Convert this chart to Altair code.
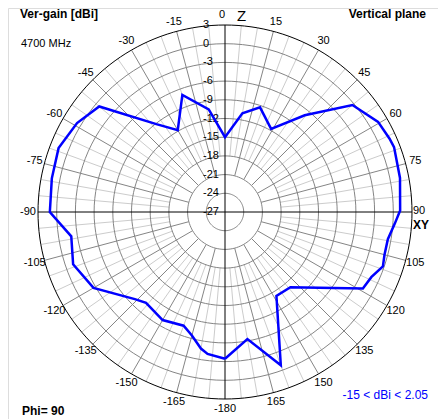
import altair as alt
import pandas as pd
import numpy as np

# ---- pattern data (angle from zenith, clockwise; gain in dBi) ----
angles = [-180, -173, -170, -165, -160, -150, -139, -134, -120, -109, -99, -90,
          -79, -69, -59, -50, -38, -30, -20, -9, 0, 10, 18.5, 29, 39.5, 50,
          59.5, 66, 69, 79, 89.5, 94, 99.5, 105, 109, 114, 119, 133.5, 139,
          148.5, 160, 170, 180]
gains = [-3.45, -4.06, -4.76, -6.48, -7.59, -6.99, -7.69, -6.89, -2.64, -1.23,
         -2.03, 1.1, 1.3, 1.6, 0.69, -0.66, -9.11, -11.84, -7.0, -10.32, -15.0,
         -10.93, -9.3, -11.74, -6.89, -0.31, 1.5, 1.9, 2.05, 1.6, 1.1, 0.29,
         -0.51, -0.51, -0.21, -1.31, -1.71, -9.41, -11.01, -11.21, -0.82, -6.30,
         -3.45]

ring_levels = [0, -3, -6, -9, -12, -15, -18, -21, -24]
outer_level = 3
radial_levels = [3, 0, -3, -6, -9, -12, -15, -18, -21, -24, -27]
radial_texts = ["3", "0", "-3", "-6", "-9", "-12", "-15", "-18", "-21", "-24", "-27"]
angle_vals = [15, 30, 45, 60, 75, 105, 120, 135, 150, 165,
              -15, -30, -45, -60, -75, -90, -105, -120, -135, -150, -165, 180]
angle_texts = ["15", "30", "45", "60", "75", "105", "120", "135", "150", "165",
               "-15", "-30", "-45", "-60", "-75", "-90", "-105", "-120", "-135",
               "-150", "-165", "-180"]

# ---- geometry ----
K = 187 / 30.0          # px per dB
W, H = 430, 411
CX, CY = 217, 204
xs = alt.Scale(domain=[-CX, W - CX], nice=False, zero=False)
ys = alt.Scale(domain=[-(H - CY), CY], nice=False, zero=False)
FONT = "Liberation Sans"

def rexpr(field):
    return f"({field} + 27) * {K}"

# rings
ring_rows = []
for lv in ring_levels:
    for i, a in enumerate(range(0, 361, 3)):
        ring_rows.append({"lv": lv, "a": a, "i": i})
rings_df = pd.DataFrame(ring_rows)
outer_df = pd.DataFrame([{"lv": outer_level, "a": a, "i": i} for i, a in enumerate(range(0, 361, 2))])

def ring_layer(df, color, sw):
    return alt.Chart(df).transform_calculate(
        x=f"{rexpr('datum.lv')} * sin(datum.a * PI / 180)",
        y=f"{rexpr('datum.lv')} * cos(datum.a * PI / 180)",
    ).mark_line(color=color, strokeWidth=sw).encode(
        x=alt.X("x:Q", scale=xs, axis=None),
        y=alt.Y("y:Q", scale=ys, axis=None),
        detail="lv:N",
        order="i:Q",
    )

rings = ring_layer(rings_df, "#858585", 1)
outer = ring_layer(outer_df, "#000000", 1)

# spokes
light_df = pd.DataFrame({"a": [a for a in range(0, 360, 5) if a % 15 != 0]})
dark_df = pd.DataFrame({"a": [a for a in range(0, 360, 15) if a % 90 != 0]})
axis_df = pd.DataFrame({"a": [0, 90]})

def spoke_layer(df, r0, r1, color, sw):
    return alt.Chart(df).transform_calculate(
        x=f"{r0} * sin(datum.a * PI / 180)",
        y=f"{r0} * cos(datum.a * PI / 180)",
        x2=f"{r1} * sin(datum.a * PI / 180)",
        y2=f"{r1} * cos(datum.a * PI / 180)",
    ).mark_rule(color=color, strokeWidth=sw).encode(
        x=alt.X("x:Q", scale=xs, axis=None),
        y=alt.Y("y:Q", scale=ys, axis=None),
        x2="x2:Q",
        y2="y2:Q",
    )

R = 30 * K
light = spoke_layer(light_df, (-18 + 27) * K, R, "#cccccc", 1)
dark = spoke_layer(dark_df, (-21 + 27) * K, R, "#858585", 1)
axes = spoke_layer(axis_df, -R, R, "#000000", 1)

# radial labels
rad_df = pd.DataFrame({"lv": radial_levels, "t": radial_texts})
rad_labels = alt.Chart(rad_df).transform_calculate(
    x="-22", y=rexpr("datum.lv")
).mark_text(align="left", baseline="middle", font=FONT, fontSize=11, color="black").encode(
    x=alt.X("x:Q", scale=xs, axis=None),
    y=alt.Y("y:Q", scale=ys, axis=None),
    text="t:N",
)

# angle labels
ang_df = pd.DataFrame({"a": angle_vals, "t": angle_texts})
ang_labels = alt.Chart(ang_df).transform_calculate(
    x="197 * sin(datum.a * PI / 180)",
    y="197 * cos(datum.a * PI / 180)",
).mark_text(align="center", baseline="middle", font=FONT, fontSize=11, color="black").encode(
    x=alt.X("x:Q", scale=xs, axis=None),
    y=alt.Y("y:Q", scale=ys, axis=None),
    text="t:N",
)

# pattern line
pat_df = pd.DataFrame({"a": angles, "g": gains, "i": list(range(len(angles)))})
pattern = alt.Chart(pat_df).transform_calculate(
    x=f"{rexpr('datum.g')} * sin(datum.a * PI / 180)",
    y=f"{rexpr('datum.g')} * cos(datum.a * PI / 180)",
).mark_line(color="#0000ff", strokeWidth=2.5, strokeJoin="miter").encode(
    x=alt.X("x:Q", scale=xs, axis=None),
    y=alt.Y("y:Q", scale=ys, axis=None),
    order="i:Q",
)

def ann(text, x, y, align="left", size=11, bold=False, color="black"):
    return alt.Chart(pd.DataFrame({"t": [text]})).mark_text(
        align=align, baseline="middle", font=FONT, fontSize=size,
        fontWeight="bold" if bold else "normal", color=color,
    ).encode(x=alt.value(x), y=alt.value(y), text="t:N")

anns = [
    ann("Ver-gain [dBi]", 12, 6, bold=True, size=12),
    ann("4700 MHz", 13, 36),
    ann("Vertical plane", 418, 6, align="right", bold=True, size=12),
    ann("Phi= 90", 14, 403, bold=True, size=12),
    ann("-15 < dBi < 2.05", 420, 387, align="right", size=12, color="#0000ff"),
    ann("0", 211, 7),
    ann("Z", 229, 8, size=15),
    ann("90", 405, 203),
    ann("XY", 405, 217, bold=True, size=12),
]

chart = alt.layer(light, dark, rings, outer, axes, rad_labels, ang_labels, pattern, *anns).properties(
    width=W, height=H, padding=0, autosize=alt.AutoSizeParams(type="none"),
).configure_view(stroke=None).configure(background="white")

chart.save("out.html", embed_options={"renderer": "svg", "actions": False})
